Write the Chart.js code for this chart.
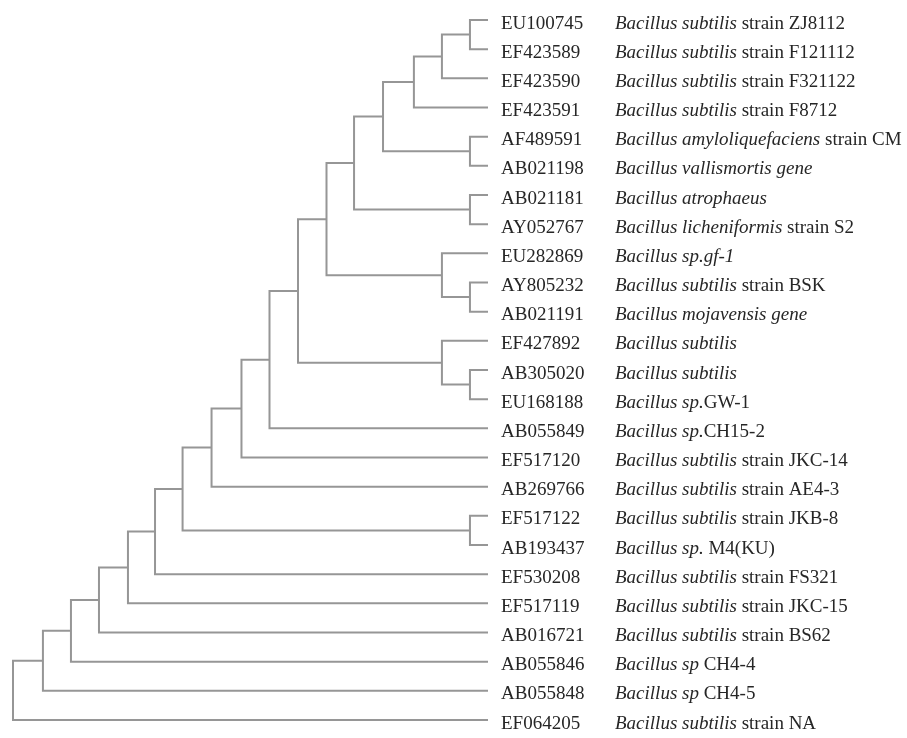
<!DOCTYPE html>
<html>
<head>
<meta charset="utf-8">
<script src="https://cdn.jsdelivr.net/npm/chart.js@4/dist/chart.umd.min.js"></script>
<style>
  html, body { margin: 0; padding: 0; background: #fff; }
  #wrap { width: 907px; height: 738px; position: relative; }
</style>
</head>
<body>
<div id="wrap"><canvas id="tree"></canvas></div>
<script>
// ─── DATA ────────────────────────────────────────────────
const leafIds = [
  'EU100745', 'EF423589', 'EF423590', 'EF423591', 'AF489591', 'AB021198',
  'AB021181', 'AY052767', 'EU282869', 'AY805232', 'AB021191', 'EF427892',
  'AB305020', 'EU168188', 'AB055849', 'EF517120', 'AB269766', 'EF517122',
  'AB193437', 'EF530208', 'EF517119', 'AB016721', 'AB055846', 'AB055848',
  'EF064205'
];

// italic part of the name
const leafTaxa = [
  'Bacillus subtilis', 'Bacillus subtilis', 'Bacillus subtilis', 'Bacillus subtilis',
  'Bacillus amyloliquefaciens', 'Bacillus vallismortis gene', 'Bacillus atrophaeus',
  'Bacillus licheniformis', 'Bacillus sp.gf-1', 'Bacillus subtilis',
  'Bacillus mojavensis gene', 'Bacillus subtilis', 'Bacillus subtilis',
  'Bacillus sp.', 'Bacillus sp.', 'Bacillus subtilis', 'Bacillus subtilis',
  'Bacillus subtilis', 'Bacillus sp.', 'Bacillus subtilis', 'Bacillus subtilis',
  'Bacillus subtilis', 'Bacillus sp', 'Bacillus sp', 'Bacillus subtilis'
];

// upright part of the name
const leafStrains = [
  ' strain ZJ8112', ' strain F121112', ' strain F321122', ' strain F8712',
  ' strain CM', '', '', ' strain S2', '', ' strain BSK', '', '', '',
  'GW-1', 'CH15-2', ' strain JKC-14', ' strain AE4-3', ' strain JKB-8',
  ' M4(KU)', ' strain FS321', ' strain JKC-15', ' strain BS62',
  ' CH4-4', ' CH4-5', ' strain NA'
];

// internal nodes: children (leaf index or node name) and branch depth (root = 0, tips = 100)
const nodeNames    = ['A', 'B', 'C', 'E', 'D', 'G', 'F', 'I', 'J', 'H', 'L', 'M',
                      'K', 'N', 'O', 'P', 'R', 'Q', 'S', 'T', 'U', 'V', 'W', 'X'];
const nodeChildren = [[0, 1], ['A', 2], ['B', 3], [4, 5], ['C', 'E'], [6, 7],
                      ['D', 'G'], [9, 10], [8, 'I'], ['F', 'J'], [12, 13], [11, 'L'],
                      ['H', 'M'], ['K', 14], ['N', 15], ['O', 16], [17, 18], ['P', 'R'],
                      ['Q', 19], ['S', 20], ['T', 21], ['U', 22], ['V', 23], ['W', 24]];
const nodeDepths   = [96.2, 90.3, 84.4, 96.2, 77.9, 96.2, 71.8, 96.2, 90.3, 66.0, 96.2, 90.3,
                      60.0, 54.0, 48.1, 41.8, 96.2, 35.7, 29.9, 24.2, 18.1, 12.2, 6.3, 0];
const tipDepth = 100;

// ─── TREE LAYOUT ─────────────────────────────────────────
const nodeY = {};
function posOf(ref) {
  if (typeof ref === 'number') return { x: tipDepth, y: ref };
  const i = nodeNames.indexOf(ref);
  if (nodeY[ref] === undefined) {
    const ys = nodeChildren[i].map(c => posOf(c).y);
    nodeY[ref] = ys.reduce((a, b) => a + b, 0) / ys.length;
  }
  return { x: nodeDepths[i], y: nodeY[ref] };
}

const LINE = '#969696';
const datasets = nodeNames.map((name, i) => {
  const [c1, c2] = nodeChildren[i].map(posOf);
  const d = nodeDepths[i];
  return {
    data: [{ x: c1.x, y: c1.y }, { x: d, y: c1.y }, { x: d, y: c2.y }, { x: c2.x, y: c2.y }],
    showLine: true,
    borderColor: LINE,
    borderWidth: 2,
    borderCapStyle: 'butt',
    borderJoinStyle: 'miter',
    pointRadius: 0,
    fill: false,
    tension: 0,
    clip: false
  };
});

// ─── LABELS PLUGIN ───────────────────────────────────────
const tipLabels = {
  id: 'tipLabels',
  afterDraw(chart) {
    const { ctx, chartArea, scales } = chart;
    ctx.save();
    ctx.fillStyle = '#262626';
    ctx.textBaseline = 'alphabetic';
    leafIds.forEach((id, i) => {
      const y = scales.y.getPixelForValue(i) + 8.5;
      ctx.font = "19px 'Liberation Serif', serif";
      ctx.fillText(id, chartArea.right + 13, y);
      let x = chartArea.right + 127;
      ctx.font = "italic 19px 'Liberation Serif', serif";
      ctx.fillText(leafTaxa[i], x, y);
      x += ctx.measureText(leafTaxa[i]).width;
      ctx.font = "19px 'Liberation Serif', serif";
      ctx.fillText(leafStrains[i], x, y);
    });
    ctx.restore();
  }
};

// ─── CHART ───────────────────────────────────────────────
new Chart(document.getElementById('tree'), {
  type: 'scatter',
  data: { datasets },
  options: {
    responsive: true,
    maintainAspectRatio: false,
    animation: false,
    layout: { padding: { left: 13, right: 419, top: 20, bottom: 18 } },
    plugins: { legend: { display: false }, tooltip: { enabled: false } },
    scales: {
      x: { type: 'linear', min: 0, max: tipDepth, display: false },
      y: { type: 'linear', min: 0, max: leafIds.length - 1, reverse: true, display: false }
    }
  },
  plugins: [tipLabels]
});
</script>
</body>
</html>
